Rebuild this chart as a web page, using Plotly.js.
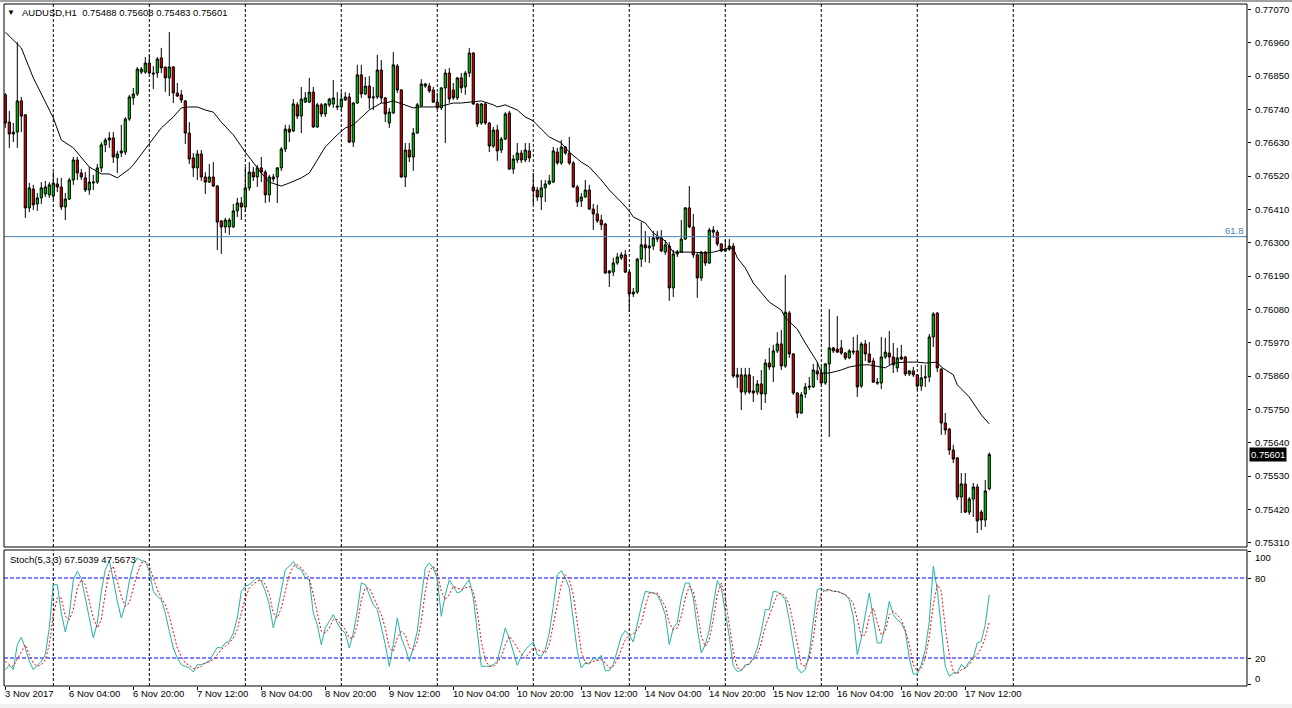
<!DOCTYPE html>
<html>
<head>
<meta charset="utf-8">
<script src="https://cdn.plot.ly/plotly-3.0.1.min.js"></script>
<style>html,body{margin:0;padding:0;background:#fff;}#chart{width:1292px;height:708px;}</style>
</head>
<body>
<div id="chart"></div>
<script>
// ---- DATA ----
const symbol = "AUDUSD,H1";
const openP = [0.76788,0.76698,0.76659,0.76665,0.76768,0.76722,0.76415,0.76477,0.76428,0.76448,
0.76461,0.76458,0.76454,0.76494,0.76484,0.76418,0.76444,0.76507,0.76573,0.76530,
0.76514,0.76474,0.76497,0.76500,0.76547,0.76623,0.76639,0.76646,0.76580,0.76596,
0.76599,0.76708,0.76778,0.76791,0.76863,0.76863,0.76893,0.76860,0.76860,0.76910,
0.76880,0.76844,0.76880,0.76794,0.76788,0.76768,0.76662,0.76580,0.76547,0.76593,
0.76517,0.76500,0.76517,0.76487,0.76372,0.76352,0.76352,0.76352,0.76405,0.76431,
0.76418,0.76481,0.76533,0.76517,0.76547,0.76533,0.76458,0.76510,0.76517,0.76547,
0.76609,0.76675,0.76669,0.76755,0.76718,0.76764,0.76764,0.76797,0.76682,0.76755,
0.76725,0.76755,0.76758,0.76751,0.76748,0.76771,0.76781,0.76632,0.76761,0.76854,
0.76791,0.76817,0.76778,0.76781,0.76870,0.76778,0.76695,0.76728,0.76883,0.76804,
0.76517,0.76606,0.76583,0.76662,0.76751,0.76817,0.76817,0.76804,0.76764,0.76745,
0.76811,0.76860,0.76804,0.76778,0.76844,0.76814,0.76860,0.76926,0.76758,0.76695,
0.76758,0.76695,0.76619,0.76672,0.76606,0.76642,0.76728,0.76543,0.76573,0.76596,
0.76573,0.76603,0.76484,0.76474,0.76451,0.76481,0.76494,0.76500,0.76599,0.76563,
0.76616,0.76596,0.76563,0.76484,0.76438,0.76451,0.76474,0.76411,0.76395,0.76375,
0.76362,0.76200,0.76203,0.76233,0.76250,0.76260,0.76203,0.76131,0.76137,0.76246,
0.76293,0.76283,0.76289,0.76312,0.76316,0.76269,0.76289,0.76151,0.76263,0.76269,
0.76312,0.76415,0.76352,0.76260,0.76184,0.76269,0.76233,0.76342,0.76335,0.76296,
0.76273,0.76279,0.76289,0.75857,0.75864,0.75807,0.75864,0.75811,0.75807,0.75834,
0.75801,0.75903,0.75890,0.75943,0.75966,0.75893,0.76068,0.75933,0.75804,0.75738,
0.75801,0.75827,0.75824,0.75877,0.75870,0.75837,0.75900,0.75953,0.75949,0.75953,
0.75936,0.75920,0.75943,0.75943,0.75827,0.75966,0.75933,0.75910,0.75840,0.75837,
0.75923,0.75936,0.75923,0.75887,0.75916,0.75923,0.75867,0.75877,0.75864,0.75827,
0.75854,0.75857,0.75989,0.76068,0.75883,0.75705,0.75685,0.75616,0.75590,0.75461,
0.75504,0.75411,0.75454,0.75494,0.75411,0.75385,0.75488];
const highP = [0.76794,0.76735,0.76695,0.76962,0.76781,0.76725,0.76497,0.76491,0.76464,0.76500,
0.76504,0.76500,0.76533,0.76514,0.76514,0.76464,0.76514,0.76583,0.76583,0.76543,
0.76533,0.76550,0.76524,0.76560,0.76632,0.76646,0.76665,0.76665,0.76603,0.76689,
0.76715,0.76788,0.76811,0.76880,0.76880,0.76913,0.76920,0.76883,0.76913,0.76943,
0.76880,0.76995,0.76883,0.76827,0.76804,0.76771,0.76698,0.76596,0.76606,0.76606,
0.76533,0.76560,0.76566,0.76491,0.76375,0.76382,0.76382,0.76428,0.76448,0.76451,
0.76550,0.76566,0.76550,0.76557,0.76583,0.76540,0.76524,0.76527,0.76550,0.76616,
0.76689,0.76689,0.76774,0.76764,0.76814,0.76797,0.76844,0.76814,0.76761,0.76761,
0.76761,0.76778,0.76837,0.76797,0.76797,0.76797,0.76794,0.76764,0.76887,0.76887,
0.76847,0.76850,0.76814,0.76920,0.76903,0.76781,0.76745,0.76929,0.76890,0.76807,
0.76629,0.76629,0.76679,0.76761,0.76840,0.76827,0.76827,0.76814,0.76794,0.76814,
0.76873,0.76877,0.76827,0.76847,0.76860,0.76867,0.76943,0.76929,0.76761,0.76761,
0.76764,0.76698,0.76682,0.76689,0.76649,0.76731,0.76735,0.76590,0.76629,0.76606,
0.76629,0.76629,0.76530,0.76484,0.76507,0.76507,0.76524,0.76616,0.76613,0.76639,
0.76619,0.76649,0.76570,0.76491,0.76464,0.76507,0.76491,0.76428,0.76425,0.76392,
0.76365,0.76210,0.76250,0.76266,0.76269,0.76276,0.76207,0.76151,0.76250,0.76368,
0.76339,0.76319,0.76339,0.76339,0.76342,0.76309,0.76302,0.76276,0.76276,0.76375,
0.76418,0.76487,0.76395,0.76269,0.76273,0.76273,0.76349,0.76355,0.76342,0.76299,
0.76309,0.76312,0.76299,0.75887,0.75887,0.75887,0.75887,0.75860,0.75847,0.75880,
0.75916,0.75953,0.75963,0.76005,0.76012,0.76194,0.76075,0.75936,0.75807,0.75807,
0.75837,0.75857,0.75900,0.75906,0.75890,0.75903,0.76081,0.75956,0.76058,0.75979,
0.75939,0.75949,0.75989,0.75996,0.75972,0.75979,0.75972,0.75920,0.75854,0.75989,
0.75986,0.76009,0.75969,0.75953,0.75963,0.75926,0.75880,0.75890,0.75867,0.75897,
0.75897,0.75999,0.76071,0.76071,0.75887,0.75738,0.75689,0.75633,0.75593,0.75540,
0.75540,0.75461,0.75507,0.75504,0.75418,0.75517,0.75608];
const lowP = [0.76679,0.76613,0.76632,0.76613,0.76665,0.76382,0.76401,0.76408,0.76405,0.76428,
0.76451,0.76448,0.76441,0.76467,0.76408,0.76375,0.76441,0.76491,0.76507,0.76507,
0.76467,0.76458,0.76474,0.76494,0.76533,0.76599,0.76613,0.76563,0.76530,0.76583,
0.76590,0.76702,0.76755,0.76784,0.76857,0.76857,0.76857,0.76807,0.76844,0.76860,
0.76797,0.76784,0.76761,0.76781,0.76761,0.76626,0.76560,0.76517,0.76507,0.76504,
0.76461,0.76497,0.76484,0.76276,0.76263,0.76332,0.76326,0.76349,0.76385,0.76375,
0.76401,0.76471,0.76504,0.76484,0.76500,0.76431,0.76434,0.76500,0.76431,0.76537,
0.76599,0.76632,0.76665,0.76708,0.76662,0.76761,0.76761,0.76679,0.76679,0.76715,
0.76715,0.76748,0.76745,0.76738,0.76735,0.76768,0.76629,0.76616,0.76758,0.76778,
0.76788,0.76741,0.76738,0.76774,0.76761,0.76698,0.76679,0.76725,0.76794,0.76514,
0.76484,0.76566,0.76537,0.76659,0.76748,0.76811,0.76794,0.76761,0.76741,0.76738,
0.76629,0.76761,0.76771,0.76771,0.76794,0.76788,0.76847,0.76755,0.76682,0.76689,
0.76689,0.76599,0.76613,0.76570,0.76596,0.76639,0.76540,0.76527,0.76563,0.76563,
0.76566,0.76566,0.76425,0.76438,0.76408,0.76434,0.76491,0.76497,0.76557,0.76557,
0.76590,0.76557,0.76481,0.76418,0.76418,0.76448,0.76408,0.76342,0.76365,0.76342,
0.76197,0.76154,0.76190,0.76227,0.76243,0.76200,0.76071,0.76121,0.76131,0.76220,
0.76236,0.76233,0.76276,0.76302,0.76269,0.76260,0.76108,0.76121,0.76253,0.76266,
0.76309,0.76349,0.76250,0.76118,0.76174,0.76223,0.76230,0.76316,0.76289,0.76269,
0.76269,0.76273,0.75854,0.75821,0.75748,0.75798,0.75801,0.75774,0.75798,0.75748,
0.75771,0.75880,0.75840,0.75936,0.75880,0.75887,0.75920,0.75798,0.75722,0.75735,
0.75788,0.75814,0.75821,0.75847,0.75831,0.75831,0.75659,0.75936,0.75936,0.75930,
0.75913,0.75916,0.75930,0.75791,0.75821,0.75910,0.75903,0.75837,0.75831,0.75817,
0.75916,0.75897,0.75870,0.75873,0.75913,0.75860,0.75860,0.75857,0.75814,0.75811,
0.75824,0.75840,0.75956,0.75873,0.75666,0.75666,0.75600,0.75573,0.75451,0.75408,
0.75408,0.75402,0.75395,0.75342,0.75352,0.75362,0.75483];
const closeP = [0.76695,0.76659,0.76665,0.76768,0.76718,0.76415,0.76481,0.76425,0.76448,0.76481,
0.76484,0.76491,0.76497,0.76484,0.76418,0.76444,0.76507,0.76573,0.76530,0.76517,
0.76474,0.76500,0.76500,0.76547,0.76623,0.76639,0.76646,0.76583,0.76593,0.76603,
0.76708,0.76781,0.76791,0.76873,0.76873,0.76893,0.76860,0.76857,0.76906,0.76877,
0.76844,0.76880,0.76794,0.76784,0.76771,0.76662,0.76576,0.76547,0.76593,0.76517,
0.76500,0.76517,0.76487,0.76368,0.76352,0.76375,0.76375,0.76405,0.76431,0.76418,
0.76481,0.76533,0.76517,0.76547,0.76533,0.76458,0.76517,0.76517,0.76547,0.76609,
0.76675,0.76665,0.76758,0.76718,0.76774,0.76778,0.76797,0.76682,0.76755,0.76725,
0.76758,0.76774,0.76778,0.76748,0.76774,0.76781,0.76632,0.76761,0.76854,0.76791,
0.76817,0.76778,0.76781,0.76870,0.76778,0.76725,0.76731,0.76887,0.76804,0.76517,
0.76606,0.76583,0.76662,0.76755,0.76824,0.76824,0.76801,0.76764,0.76745,0.76811,
0.76860,0.76774,0.76778,0.76844,0.76811,0.76860,0.76926,0.76758,0.76692,0.76758,
0.76695,0.76619,0.76672,0.76603,0.76642,0.76725,0.76543,0.76576,0.76596,0.76573,
0.76606,0.76580,0.76471,0.76451,0.76481,0.76494,0.76504,0.76603,0.76563,0.76616,
0.76596,0.76563,0.76484,0.76434,0.76451,0.76474,0.76411,0.76395,0.76372,0.76359,
0.76200,0.76207,0.76233,0.76253,0.76260,0.76203,0.76131,0.76137,0.76246,0.76293,
0.76283,0.76289,0.76316,0.76319,0.76273,0.76293,0.76151,0.76263,0.76269,0.76312,
0.76415,0.76352,0.76260,0.76184,0.76269,0.76233,0.76342,0.76335,0.76296,0.76273,
0.76279,0.76289,0.75860,0.75864,0.75807,0.75864,0.75807,0.75804,0.75834,0.75801,
0.75903,0.75890,0.75943,0.75966,0.75893,0.76071,0.75933,0.75804,0.75738,0.75798,
0.75824,0.75824,0.75880,0.75867,0.75837,0.75900,0.75953,0.75943,0.75939,0.75936,
0.75920,0.75943,0.75939,0.75824,0.75966,0.75933,0.75906,0.75840,0.75837,0.75923,
0.75939,0.75923,0.75897,0.75920,0.75923,0.75867,0.75877,0.75864,0.75827,0.75854,
0.75857,0.75989,0.76065,0.75887,0.75705,0.75682,0.75616,0.75586,0.75461,0.75504,
0.75411,0.75454,0.75494,0.75382,0.75385,0.75481,0.75601];

// moving average (bar index, value)
const maIdx = [0,4,7,12,14,17,21,24,26,28,29,31,32,36,39,42,44,46,48,50,52,54,57,60,62,64,66,69,71,74,76,78,80,83,85,87,89,91,94,95,97,100,102,104,107,109,112,114,117,119,122,123,125,128,130,132,134,136,139,141,144,146,149,151,154,156,157,160,162,165,167,169,172,175,177,180,182,183,185,187,189,191,194,195,198,200,203,204,206,209,211,214,216,219,220,222,225,228,230,233,234,237,238,241,242,244,246];
const maVal = [0.76995,0.76943,0.76844,0.76712,0.76639,0.76613,0.76550,0.76527,0.76527,0.76514,0.76524,0.76543,0.76557,0.76629,0.76679,0.76715,0.76745,0.76748,0.76748,0.76738,0.76731,0.76698,0.76656,0.76599,0.76563,0.76530,0.76500,0.76487,0.76497,0.76514,0.76530,0.76573,0.76616,0.76656,0.76679,0.76689,0.76712,0.76738,0.76761,0.76761,0.76768,0.76755,0.76745,0.76748,0.76748,0.76751,0.76761,0.76761,0.76764,0.76768,0.76755,0.76748,0.76755,0.76738,0.76715,0.76702,0.76675,0.76649,0.76629,0.76599,0.76566,0.76550,0.76507,0.76474,0.76434,0.76405,0.76385,0.76365,0.76332,0.76306,0.76269,0.76269,0.76269,0.76266,0.76269,0.76279,0.76283,0.76250,0.76217,0.76167,0.76137,0.76104,0.76078,0.76052,0.76015,0.75969,0.75906,0.75870,0.75870,0.75880,0.75890,0.75897,0.75897,0.75890,0.75887,0.75903,0.75906,0.75906,0.75903,0.75906,0.75890,0.75864,0.75831,0.75791,0.75771,0.75732,0.75702];

// stochastic (5,3,3): %K main, %D signal
const stochK = [11.25,14.5,11.25,30,35.5,27.5,17.5,11.25,14.5,17.5,
22.5,42.5,75,75,53.75,39.5,52.5,78.75,85,79.5,
65,50,35,46.25,70,86.25,93,78.75,62.5,50,
60,77.5,90,95,93,92.5,85,70,66.25,63.75,
53.75,40,27.5,20,15,13.75,12.5,9.5,15,15,
16.25,17.5,23,28,27.5,31.25,32.5,38.75,50,70,
73.75,75,77.5,80.5,77.5,70,60,42.5,55,70,
86.25,88.75,92.5,87.5,86.25,80,78.75,53.75,45,30,
42.5,47.5,52.5,46.25,41.25,38.75,27.5,38.75,55,76.25,
75,67.5,60,56.25,43.75,30,13.75,30,50,35,
27.5,17.5,27.5,40,65,87.5,91.25,87.5,80,51.25,
67.5,78.75,73.75,68.75,70,75,78.75,65,40,13.75,
13.75,13.75,15,17.5,30,
42.5,35,25,14.5,21.25,26.25,29.5,32,22.5,21.25,
26.25,38.75,58.75,82.5,85.5,80,72.5,47.5,25,12.5,
16.25,15.5,20,18.75,22,10.5,10.5,15,25,36.25,
40.5,37,32,46.25,58.75,70,69.5,68.75,67.5,61.25,
52.5,30,42.5,46.25,65,76.25,76.25,65,42.5,23.75,
30,41.25,60,78,72.5,53.75,36.25,13.75,10,10.5,
15,15,20,27.5,40,56.25,56.25,70,69.5,67.5,
63.75,48.75,30,12.5,8.75,11.25,23.75,47.5,71.25,72.5,
70,71.25,70,70,68.75,67.5,63.75,51.25,22.5,35,
52.5,68.75,50,31.25,31.25,45,62.5,52.5,48.75,46.25,
40,20,8,8,15,26.25,47.5,88.75,71.25,42.5,
13.75,6.25,8.75,8.75,15,12.5,17.5,20,31.25,32.5,
45,67.5039];
const stochD = [17.5,15,13.75,19,25,30,22.5,16.25,13.75,15,
18.75,30,52.5,65,65,51.25,48.75,56.25,72.5,78.75,
75,62.5,50,42.5,48.75,68.75,85,88.75,77.5,66.25,
58.75,61.25,72.5,83.75,91.25,92.5,88.75,80,71.25,65,
60,51.25,40,27.5,21.25,16.25,14.5,12,12.5,13.75,
16.25,17.5,18.75,22.5,26.25,28.75,31.25,35,41.25,53.75,
65,72.5,75.5,77.5,78.75,75,67.5,53.75,50,57.5,
71.25,82.5,88.75,90,87.5,83.75,80,67.5,53.75,40,
38.75,42.5,48.75,48.75,45,41.25,35,35,45,63.75,
72.5,72.5,66.25,58.75,52.5,42.5,27.5,25,35,40,
37.5,27.5,26.25,32.5,47.5,70,85,88.75,83.75,70,
63.75,67.5,73.75,72.5,71.25,72.5,73.75,70,55,32.5,
18.75,13.75,13.75,16.25,21,
30,36.25,32.5,27.5,23,20,23.75,27.5,26.25,25,
23.75,30,45,60,75,82.5,78.75,67.5,45,25,
16.25,16.25,17.5,18,18.75,16.25,12.5,13.75,18.75,26.25,
33.75,37,38,41.25,46.25,58.75,68.75,68.75,68.75,63.75,
58.75,46.25,41.25,42.5,51.25,65,73.75,70,55,36.25,
28.75,33.75,48.75,67.5,76.25,65,45,25,12.5,11.25,
13.75,16.25,18.75,22.5,31.25,43.75,52.5,60,67.5,68.75,
66.25,60,46.25,30,15,13.75,20,35,57.5,68.75,
71.25,71.25,70,70,68.75,67.5,65,61.25,48.75,36.25,
37.5,51.25,57.5,46.25,37.5,40,52.5,55,52.5,48.75,
41.25,30,15,10,12.5,20,36.25,60,75,70,
42.5,22.5,10,8,11.25,12.5,15,20,22.5,27.5,
35,47.5673];
const stochLevels = [100, 80, 20, 0];

const priceTicks = [0.77070,0.76960,0.76850,0.76740,0.76630,0.76520,0.76410,0.76300,0.76190,0.76080,0.75970,0.75860,0.75750,0.75640,0.75530,0.75420,0.75310];
const timeLabelIdx = [0,16,32,48,64,80,96,112,128,144,160,176,192,208,224,240];
const timeLabels = ["3 Nov 2017","6 Nov 04:00","6 Nov 20:00","7 Nov 12:00","8 Nov 04:00","8 Nov 20:00","9 Nov 12:00","10 Nov 04:00","10 Nov 20:00","13 Nov 12:00","14 Nov 04:00","14 Nov 20:00","15 Nov 12:00","16 Nov 04:00","16 Nov 20:00","17 Nov 12:00"];
const daySeparators = [12,36,60,84,108,132,156,180,204,228,252];
const fibLevel = 0.76320;
const fibLabel = "61.8";

// ---- BUILD ----
const idx = openP.map((_, i) => i);
const n = idx.length;
const FONT = 'Liberation Sans, Arial, sans-serif';
const FS = 9.5;
const px2x = px => (px - 4) / 1243;
const px2y = py => (686 - py) / 682;

const traces = [
  {type:'candlestick', x:idx, open:openP, high:highP, low:lowP, close:closeP,
   xaxis:'x', yaxis:'y', whiskerwidth:0, hoverinfo:'skip',
   increasing:{line:{color:'#000000', width:1}, fillcolor:'#00c800'},
   decreasing:{line:{color:'#000000', width:1}, fillcolor:'#e00000'}},
  {type:'scatter', mode:'lines', x:maIdx, y:maVal, xaxis:'x', yaxis:'y',
   line:{color:'#000000', width:1}, hoverinfo:'skip'},
  {type:'scatter', mode:'lines', x:idx, y:stochK, xaxis:'x', yaxis:'y2',
   line:{color:'#20b2aa', width:1}, hoverinfo:'skip'},
  {type:'scatter', mode:'lines', x:idx, y:stochD, xaxis:'x', yaxis:'y2',
   line:{color:'#ff0000', width:1, dash:'2px,2px'}, hoverinfo:'skip'}
];

const shapes = [];
daySeparators.forEach(d => {
  shapes.push({type:'line', xref:'x', yref:'paper', x0:d, x1:d, y0:px2y(547), y1:1, layer:'below',
    line:{color:'#000000', width:1, dash:'3px,2px'}});
  shapes.push({type:'line', xref:'x', yref:'paper', x0:d, x1:d, y0:0, y1:px2y(550), layer:'below',
    line:{color:'#000000', width:1, dash:'3px,2px'}});
});
[80, 20].forEach(l => shapes.push({type:'line', xref:'paper', yref:'y2', x0:0, x1:1, y0:l, y1:l,
  layer:'below', line:{color:'#0000ff', width:1, dash:'4px,2px'}}));
shapes.push({type:'line', xref:'paper', yref:'y', x0:0, x1:1, y0:fibLevel, y1:fibLevel,
  line:{color:'#4682b4', width:1}});
// panel frames
shapes.push({type:'rect', xref:'paper', yref:'paper', x0:0, x1:1, y0:px2y(547), y1:1, line:{color:'#000', width:1}});
shapes.push({type:'rect', xref:'paper', yref:'paper', x0:0, x1:1, y0:0, y1:px2y(550), line:{color:'#000', width:1}});
// window edges
shapes.push({type:'rect', xref:'paper', yref:'paper', x0:px2x(0), x1:px2x(1292), y0:px2y(708), y1:px2y(704),
  fillcolor:'#f0f0f0', line:{width:0}});
shapes.push({type:'line', xref:'paper', yref:'paper', x0:px2x(0), x1:px2x(1292), y0:px2y(1), y1:px2y(1),
  line:{color:'#a0a0a0', width:2}});

const last = n - 1;
const f5 = v => v.toFixed(5);
const annotations = [
  {xref:'paper', yref:'paper', x:px2x(11), y:px2y(12.5), text:'▼', showarrow:false,
   xanchor:'center', yanchor:'middle', font:{family:FONT, size:8, color:'#000'}},
  {xref:'paper', yref:'paper', x:px2x(20), y:px2y(13), showarrow:false, xanchor:'left', yanchor:'middle',
   text: symbol + '  ' + [openP[last], highP[last], lowP[last], closeP[last]].map(f5).join(' '),
   font:{family:FONT, size:FS, color:'#000'}},
  {xref:'paper', yref:'paper', x:px2x(8), y:px2y(559.5), showarrow:false, xanchor:'left', yanchor:'middle',
   text:'Stoch(5,3,3) ' + stochK[last].toFixed(4) + ' ' + stochD[last].toFixed(4),
   font:{family:FONT, size:FS, color:'#000'}},
  {xref:'paper', yref:'y', x:1, y:fibLevel, text:fibLabel, showarrow:false, xanchor:'right', yanchor:'bottom',
   xshift:-1, yshift:-1, font:{family:FONT, size:FS, color:'#4682b4'}},
  {xref:'paper', yref:'y', x:px2x(1249), y:closeP[last], text:f5(closeP[last]), showarrow:false,
   xanchor:'left', yanchor:'middle', bgcolor:'#000000', borderpad:1,
   font:{family:FONT, size:FS, color:'#ffffff'}}
];
timeLabels.forEach((t, i) => annotations.push({xref:'x', yref:'paper', x:timeLabelIdx[i], y:px2y(693),
  text:t, showarrow:false, xanchor:'left', yanchor:'middle', xshift:-2,
  font:{family:FONT, size:FS, color:'#000'}}));
stochLevels.forEach(l => annotations.push({xref:'paper', yref:'y2', x:px2x(1253), y:l, text:String(l),
  showarrow:false, xanchor:'left', yanchor:'middle', yshift: l === 100 ? -6 : (l === 0 ? 6 : 0),
  font:{family:FONT, size:FS, color:'#000'}}));

const layout = {
  width:1292, height:708,
  margin:{l:4, r:45, t:4, b:22, pad:0},
  paper_bgcolor:'#ffffff', plot_bgcolor:'#ffffff',
  showlegend:false, boxgap:0.45, boxgroupgap:0,
  font:{family:FONT, size:FS, color:'#000'},
  xaxis:{range:[-0.325, 310.43], anchor:'y2', showgrid:false, zeroline:false, showline:false,
    tickmode:'array', tickvals:timeLabelIdx, ticks:'outside', ticklen:3, tickcolor:'#000',
    showticklabels:false, rangeslider:{visible:false}, fixedrange:true},
  yaxis:{domain:[px2y(547), 1], range:[0.752959, 0.770878], side:'right', anchor:'x',
    tickmode:'array', tickvals:priceTicks, tickformat:'.5f', ticks:'outside', ticklen:3, tickcolor:'#000',
    showgrid:false, zeroline:false, showline:false, ticklabelstandoff:2,
    tickfont:{family:FONT, size:FS, color:'#000'}, fixedrange:true},
  yaxis2:{domain:[0, px2y(550)], range:[-1, 101], side:'right', anchor:'x',
    tickmode:'array', tickvals:[0,20,80,100], ticks:'outside', ticklen:3, tickcolor:'#000',
    showticklabels:false, showgrid:false, zeroline:false, showline:false, fixedrange:true},
  shapes:shapes, annotations:annotations
};

Plotly.newPlot('chart', traces, layout, {displayModeBar:false, staticPlot:true});
</script>
</body>
</html>
